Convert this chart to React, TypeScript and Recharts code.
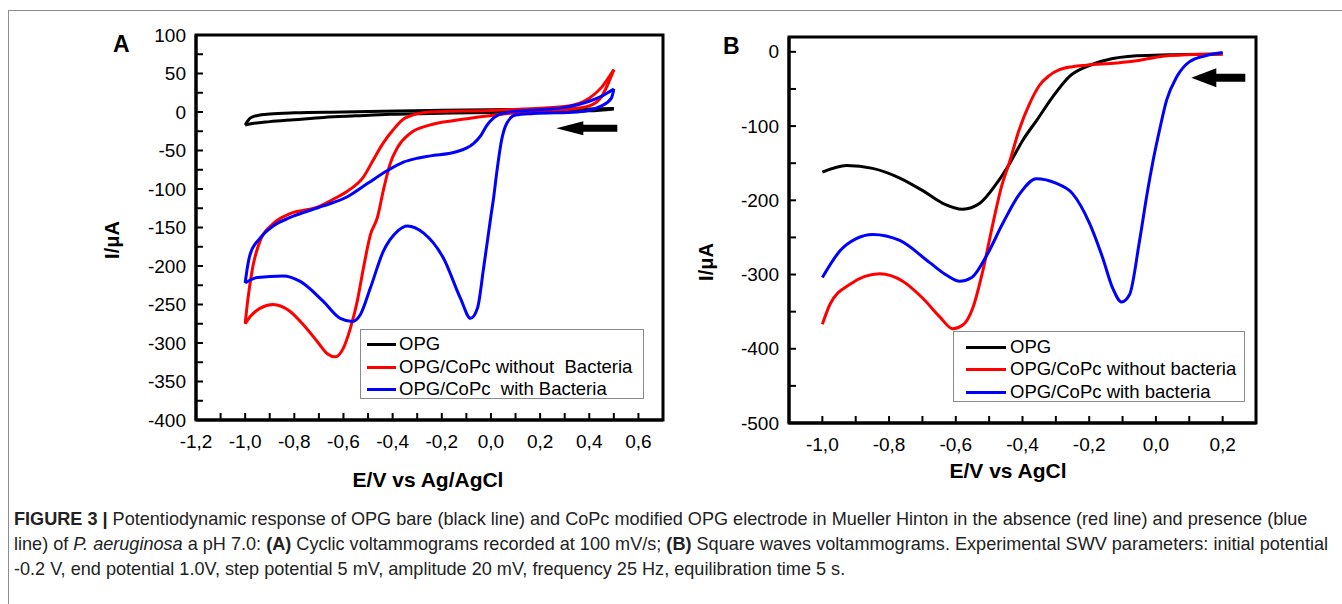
import React from "react";
import { LineChart, Line, XAxis, YAxis, ReferenceArea, ReferenceDot, Legend } from "recharts";

type Pt = [number, number];

// ---- Panel A: cyclic voltammograms (each loop split into its two sweeps) ----
const opgA_lower: Pt[] = [
  [-1.0, -17], [-0.97, -15], [-0.9, -12.5], [-0.8, -10], [-0.68, -7], [-0.55, -5],
  [-0.41, -3], [-0.25, -2], [0.0, -0.5], [0.2, 0.5], [0.4, 1.5], [0.5, 4],
];
const opgA_upper: Pt[] = [
  [-1.0, -17], [-0.99, -12], [-0.98, -8], [-0.95, -4.5], [-0.9, -2.5], [-0.8, -1],
  [-0.6, 0], [-0.25, 2], [0.0, 3], [0.2, 3.5], [0.4, 4], [0.5, 4.5],
];
const redA_inner: Pt[] = [
  [-1.0, -275], [-0.98, -266], [-0.94, -255], [-0.886, -250], [-0.817, -259], [-0.764, -276],
  [-0.707, -298], [-0.666, -314], [-0.633, -318], [-0.601, -307], [-0.572, -281], [-0.544, -246],
  [-0.519, -203], [-0.49, -159], [-0.462, -137], [-0.438, -102], [-0.41, -67], [-0.38, -46],
  [-0.33, -28], [-0.25, -17], [-0.15, -11], [0.0, -4.5], [0.13, 0], [0.3, 3], [0.4, 8],
  [0.45, 20], [0.5, 55],
];
const redA_outer: Pt[] = [
  [-1.0, -275], [-0.99, -246], [-0.97, -203], [-0.94, -168], [-0.886, -145], [-0.817, -132],
  [-0.71, -124], [-0.64, -113], [-0.58, -102], [-0.52, -85], [-0.48, -63], [-0.44, -41],
  [-0.4, -24], [-0.35, -8], [-0.25, 0], [0.0, 2], [0.13, 4], [0.3, 7], [0.4, 18],
  [0.45, 32], [0.5, 55],
];
const blueA_lower: Pt[] = [
  [-1.0, -222], [-0.951, -215], [-0.845, -213], [-0.776, -220], [-0.682, -246], [-0.613, -268],
  [-0.564, -272], [-0.531, -263], [-0.491, -229], [-0.438, -181], [-0.381, -155], [-0.34, -148],
  [-0.275, -157], [-0.193, -190], [-0.124, -242], [-0.083, -268], [-0.055, -255], [-0.03, -203],
  [-0.001, -137], [0.011, -111], [0.023, -80], [0.043, -37], [0.064, -15], [0.1, -4],
  [0.174, -2], [0.35, 0], [0.45, 8], [0.49, 18], [0.5, 30],
];
const blueA_upper: Pt[] = [
  [-1.0, -222], [-0.99, -200], [-0.98, -185], [-0.94, -164], [-0.886, -148], [-0.817, -137],
  [-0.682, -122], [-0.584, -110], [-0.503, -93], [-0.421, -76], [-0.356, -65], [-0.3, -60],
  [-0.246, -57], [-0.144, -52], [-0.1, -47], [-0.071, -41], [-0.04, -30], [-0.018, -18],
  [0.01, -8], [0.035, -3], [0.1, 1], [0.2, 3], [0.3, 6], [0.4, 14], [0.44, 19], [0.5, 30],
];

// ---- Panel B: square wave voltammograms ----
const opgB: Pt[] = [
  [-1.0, -162], [-0.927, -153], [-0.849, -157], [-0.768, -170], [-0.699, -187], [-0.639, -204],
  [-0.579, -212], [-0.528, -204], [-0.477, -177], [-0.438, -150], [-0.399, -119], [-0.357, -92],
  [-0.31, -61], [-0.259, -33], [-0.208, -20], [-0.148, -11], [-0.058, -5.4], [0.041, -4], [0.2, -3],
];
const redB: Pt[] = [
  [-1.0, -367], [-0.977, -340], [-0.917, -313], [-0.828, -299], [-0.759, -309], [-0.699, -332],
  [-0.648, -357], [-0.609, -373], [-0.579, -368], [-0.549, -345], [-0.519, -295], [-0.489, -232],
  [-0.462, -180], [-0.44, -150], [-0.41, -105], [-0.378, -69], [-0.349, -45], [-0.32, -32],
  [-0.289, -24], [-0.25, -20], [-0.208, -18], [-0.118, -15], [-0.058, -12], [0.011, -6.5],
  [0.092, -4], [0.2, -3],
];
const blueB: Pt[] = [
  [-1.0, -304], [-0.947, -268], [-0.9, -252], [-0.849, -246], [-0.768, -254], [-0.678, -284],
  [-0.627, -301], [-0.588, -309], [-0.552, -304], [-0.507, -274], [-0.459, -231], [-0.408, -191],
  [-0.359, -171], [-0.3, -177], [-0.25, -191], [-0.199, -231], [-0.16, -277], [-0.13, -318],
  [-0.103, -337], [-0.079, -327], [-0.049, -254], [-0.025, -187], [-0.01, -150], [0.011, -105],
  [0.032, -65], [0.062, -34], [0.1, -13.5], [0.151, -5], [0.2, -1],
];

// ---- axes ----
const xTicksA = [-1.2, -1.1, -1.0, -0.9, -0.8, -0.7, -0.6, -0.5, -0.4, -0.3, -0.2, -0.1, 0.0, 0.1, 0.2, 0.3, 0.4, 0.5, 0.6, 0.7];
const xLabelsA = [-1.2, -1.0, -0.8, -0.6, -0.4, -0.2, 0.0, 0.2, 0.4, 0.6];
const yTicksA = [-400, -375, -350, -325, -300, -275, -250, -225, -200, -175, -150, -125, -100, -75, -50, -25, 0, 25, 50, 75, 100];
const yLabelsA = [-400, -350, -300, -250, -200, -150, -100, -50, 0, 50, 100];

const xTicksB = [-1.1, -1.0, -0.9, -0.8, -0.7, -0.6, -0.5, -0.4, -0.3, -0.2, -0.1, 0.0, 0.1, 0.2, 0.3];
const xLabelsB = [-1.0, -0.8, -0.6, -0.4, -0.2, 0.0, 0.2];
const yTicksB = [-500, -450, -400, -350, -300, -250, -200, -150, -100, -50, 0];
const yLabelsB = [-500, -400, -300, -200, -100, 0];

const legendA = ["OPG", "OPG/CoPc without  Bacteria", "OPG/CoPc  with Bacteria"];
const legendB = ["OPG", "OPG/CoPc without bacteria", "OPG/CoPc with bacteria"];
const colors = ["#000000", "#ff0000", "#0000ff"];

const FONT = "'Liberation Sans', Arial, Helvetica, sans-serif";
const LW = 3;

const rows = (pts: Pt[]) => pts.map(([e, i]) => ({ e, i }));
const has = (list: number[], v: number) => list.some((l) => Math.abs(l - v) < 1e-6);
const comma = (v: number) => (Math.abs(v) < 1e-9 ? "0,0" : v.toFixed(1).replace(".", ","));

function makeXTick(labels: number[]) {
  return (p: any) => {
    const v = p.payload.value;
    return (
      <g>
        <line x1={p.x} x2={p.x} y1={p.y} y2={p.y - 7} stroke="#000" strokeWidth={2} />
        {has(labels, v) && (
          <text x={p.x} y={p.y + 21} textAnchor="middle" dominantBaseline="central" fontSize={19} fill="#000" fontFamily={FONT}>
            {comma(v)}
          </text>
        )}
      </g>
    );
  };
}

function makeYTick(labels: number[]) {
  return (p: any) => {
    const v = p.payload.value;
    return (
      <g>
        <line x1={p.x} x2={p.x + 7} y1={p.y} y2={p.y} stroke="#000" strokeWidth={2} />
        {has(labels, v) && (
          <text x={p.x - 10} y={p.y} textAnchor="end" dominantBaseline="central" fontSize={19} fill="#000" fontFamily={FONT}>
            {String(v)}
          </text>
        )}
      </g>
    );
  };
}

function makeArrow(len: number, head: number, headH: number, shaftH: number) {
  return (p: any) => {
    const { cx, cy } = p;
    const l = cx - len / 2;
    const r = cx + len / 2;
    const pts = [
      [l, cy], [l + head, cy - headH / 2], [l + head, cy - shaftH / 2], [r, cy - shaftH / 2],
      [r, cy + shaftH / 2], [l + head, cy + shaftH / 2], [l + head, cy + headH / 2],
    ].map((q) => q.join(",")).join(" ");
    return <polygon points={pts} fill="#000" />;
  };
}

function makeLegend(names: string[], lineX: [number, number], textX: number, rowY: number[]) {
  return () => (
    <div style={{ position: "relative", width: "100%", height: "100%", boxSizing: "border-box", border: "1.5px solid #8a8a8a", background: "#fff" }}>
      {names.map((n, k) => (
        <div key={n} style={{ position: "absolute", left: 0, top: rowY[k] - 11, height: 22, width: "100%" }}>
          <div style={{ position: "absolute", left: lineX[0], width: lineX[1] - lineX[0], top: 10, height: 3, background: colors[k] }} />
          <span style={{ position: "absolute", left: textX, top: 0, lineHeight: "22px", fontSize: 18.5, fontFamily: FONT, color: "#000", whiteSpace: "pre" }}>
            {n}
          </span>
        </div>
      ))}
    </div>
  );
}

const titleStyle: React.CSSProperties = {
  position: "absolute", fontFamily: FONT, fontWeight: "bold", color: "#000", whiteSpace: "nowrap",
};

export default function App() {
  const branchesA: [Pt[], string][] = [
    [opgA_lower, colors[0]], [opgA_upper, colors[0]],
    [redA_inner, colors[1]], [redA_outer, colors[1]],
    [blueA_lower, colors[2]], [blueA_upper, colors[2]],
  ];
  const seriesB: [Pt[], string][] = [[opgB, colors[0]], [redB, colors[1]], [blueB, colors[2]]];

  return (
    <div style={{ position: "absolute", left: 0, top: 0, width: 1342, height: 604, background: "#fff", overflow: "hidden" }}>
      <div style={{ position: "absolute", left: 8, top: 10, width: 1340, height: 600, borderTop: "1.5px solid #8c8c8c", borderLeft: "1.5px solid #8c8c8c" }} />

      {/* Panel A */}
      <div style={{ position: "absolute", left: 0, top: 0 }}>
        <LineChart width={700} height={500} margin={{ top: 35, right: 37, bottom: 40, left: 136 }}>
          <XAxis dataKey="e" type="number" domain={[-1.2, 0.7]} ticks={xTicksA} interval={0} allowDataOverflow
            height={40} tickSize={0} tickMargin={0} tickLine={false} tick={makeXTick(xLabelsA)}
            axisLine={{ stroke: "#000", strokeWidth: 3 }} />
          <YAxis type="number" domain={[-400, 100]} ticks={yTicksA} interval={0} allowDataOverflow
            width={60} tickSize={0} tickMargin={0} tickLine={false} tick={makeYTick(yLabelsA)}
            axisLine={{ stroke: "#000", strokeWidth: 3 }} />
          <ReferenceArea x1={-1.2} x2={0.7} y1={-400} y2={100} fill="none" stroke="#000" strokeWidth={3} ifOverflow="visible" />
          {branchesA.map(([pts, c], k) => (
            <Line key={k} data={rows(pts)} dataKey="i" type="monotone" stroke={c} strokeWidth={LW}
              dot={false} activeDot={false} isAnimationActive={false} />
          ))}
          <ReferenceDot x={0.39} y={-21} r={1} ifOverflow="visible" shape={makeArrow(61, 27, 14, 7)} />
          <Legend layout="horizontal" verticalAlign="middle" align="center"
            wrapperStyle={{ left: 360, top: 329, width: 284, height: 70 }}
            content={makeLegend(legendA, [6, 35], 38, [14, 37, 59])} />
        </LineChart>
      </div>
      <div style={{ ...titleStyle, left: 113, top: 31, fontSize: 23 }}>A</div>
      <div style={{ ...titleStyle, left: 112, top: 240, fontSize: 20, transform: "translate(-50%, -50%) rotate(-90deg)" }}>I/μA</div>
      <div style={{ ...titleStyle, left: 428, top: 480, fontSize: 21, transform: "translate(-50%, -50%)" }}>E/V vs Ag/AgCl</div>

      {/* Panel B */}
      <div style={{ position: "absolute", left: 700, top: 0 }}>
        <LineChart width={642} height={500} margin={{ top: 37, right: 86, bottom: 37, left: 29 }}>
          <XAxis dataKey="e" type="number" domain={[-1.1, 0.3]} ticks={xTicksB} interval={0} allowDataOverflow
            height={40} tickSize={0} tickMargin={0} tickLine={false} tick={makeXTick(xLabelsB)}
            axisLine={{ stroke: "#000", strokeWidth: 3 }} />
          <YAxis type="number" domain={[-500, 20]} ticks={yTicksB} interval={0} allowDataOverflow
            width={60} tickSize={0} tickMargin={0} tickLine={false} tick={makeYTick(yLabelsB)}
            axisLine={{ stroke: "#000", strokeWidth: 3 }} />
          <ReferenceArea x1={-1.1} x2={0.3} y1={-500} y2={20} fill="none" stroke="#000" strokeWidth={3} ifOverflow="visible" />
          {seriesB.map(([pts, c], k) => (
            <Line key={k} data={rows(pts)} dataKey="i" type="monotone" stroke={c} strokeWidth={LW}
              dot={false} activeDot={false} isAnimationActive={false} />
          ))}
          <ReferenceDot x={0.187} y={-35} r={1} ifOverflow="visible" shape={makeArrow(54, 25, 19, 8)} />
          <Legend layout="horizontal" verticalAlign="middle" align="center"
            wrapperStyle={{ left: 253, top: 331, width: 292, height: 71 }}
            content={makeLegend(legendB, [12, 52], 56, [15, 37, 60])} />
        </LineChart>
      </div>
      <div style={{ ...titleStyle, left: 723, top: 33, fontSize: 23 }}>B</div>
      <div style={{ ...titleStyle, left: 706, top: 262, fontSize: 20, transform: "translate(-50%, -50%) rotate(-90deg)" }}>I/μA</div>
      <div style={{ ...titleStyle, left: 1008, top: 471, fontSize: 21, transform: "translate(-50%, -50%)" }}>E/V vs AgCl</div>

      {/* Caption */}
      <div style={{ position: "absolute", left: 14, top: 507, fontFamily: FONT, fontSize: 18.1, lineHeight: "25px", color: "#222", whiteSpace: "nowrap" }}>
        <div><b>FIGURE 3 |</b> Potentiodynamic response of OPG bare (black line) and CoPc modified OPG electrode in Mueller Hinton in the absence (red line) and presence (blue</div>
        <div>line) of <i>P. aeruginosa</i> a pH 7.0: <b>(A)</b> Cyclic voltammograms recorded at 100 mV/s; <b>(B)</b> Square waves voltammograms. Experimental SWV parameters: initial potential</div>
        <div>-0.2 V, end potential 1.0V, step potential 5 mV, amplitude 20 mV, frequency 25 Hz, equilibration time 5 s.</div>
      </div>
    </div>
  );
}
